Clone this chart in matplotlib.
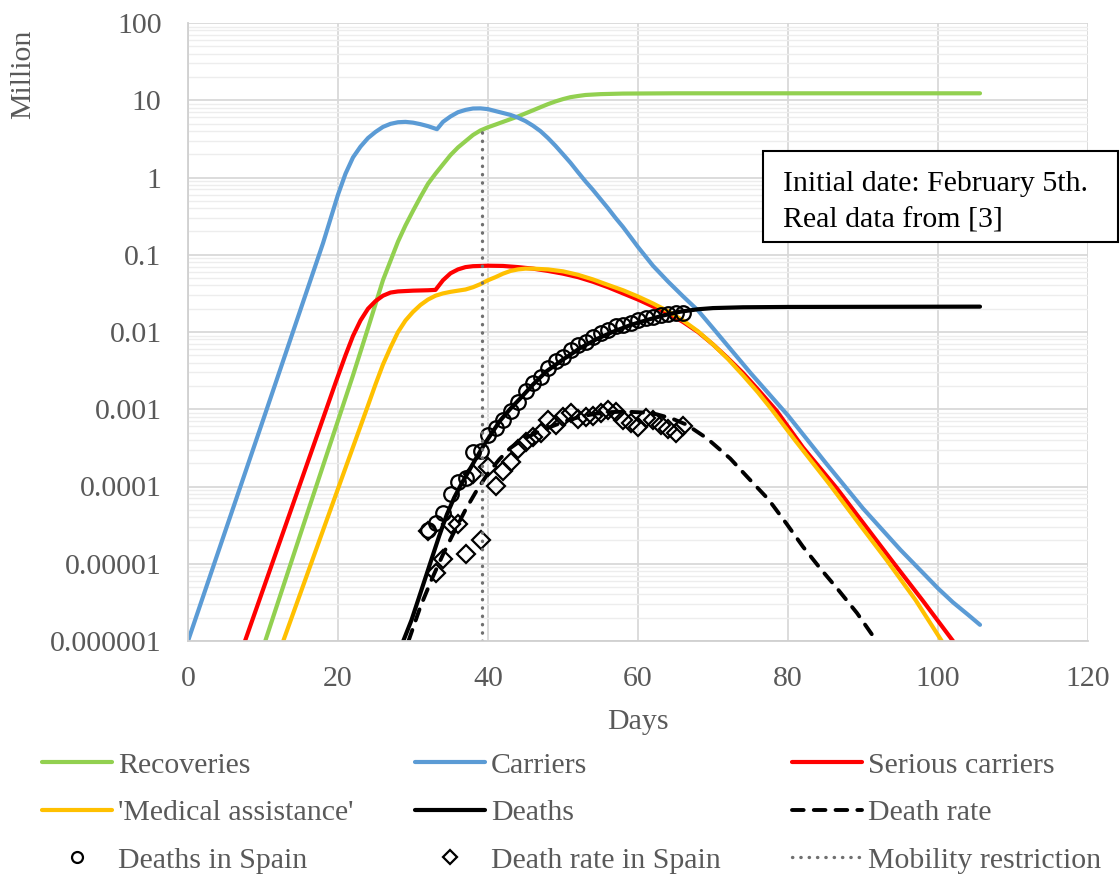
import numpy as np
import matplotlib.pyplot as plt
from matplotlib.patches import Rectangle
from matplotlib.ticker import LogLocator, NullFormatter, FixedLocator, FixedFormatter

plt.rcParams['font.family'] = ['Liberation Serif', 'DejaVu Serif']

# model curves (days, million people)
rec_days = [10.3, 16, 22, 24, 26, 28, 29, 30, 31, 32, 33, 34, 35, 36, 37, 38, 39, 40, 41, 42, 43, 44, 45, 46, 47, 48,
            49, 50, 51, 52, 53, 55, 58, 65, 105.6]
rec_vals = [1e-6, 4.8e-5, 2.75e-3, 0.0112, 0.047, 0.148, 0.24, 0.37, 0.56, 0.83, 1.12, 1.48, 1.95, 2.45, 2.95, 3.55,
            4.07, 4.47, 4.84, 5.25, 5.69, 6.17, 6.76, 7.41, 8.13, 8.91, 9.66, 10.35, 10.96, 11.35, 11.7, 12.0, 12.2,
            12.3, 12.3]

car_days = [0, 5, 10, 15, 18, 20, 21, 22, 23, 24, 25, 26, 27, 28, 29, 30, 31, 32, 33.2, 34, 35, 36, 37, 38, 39, 40,
            41, 42, 43, 44, 45, 46, 47, 48, 49, 50, 51, 52, 53, 54, 55, 56, 57, 58, 59, 60, 62, 64, 66, 68, 70, 75,
            80, 85, 90, 95, 98, 100, 102, 104, 105.6]
car_vals = [1e-6, 2.7e-5, 7.2e-4, 0.0195, 0.141, 0.60, 1.12, 1.82, 2.51, 3.24, 3.89, 4.52, 4.95, 5.19, 5.25, 5.13,
            4.90, 4.62, 4.22, 5.25, 6.17, 7.0, 7.5, 7.82, 7.85, 7.67, 7.24, 6.84, 6.46, 5.96, 5.37, 4.68, 3.98, 3.24,
            2.57, 2.0, 1.55, 1.17, 0.89, 0.69, 0.525, 0.40, 0.30, 0.229, 0.17, 0.126, 0.072, 0.045, 0.029, 0.019,
            0.0112, 0.00295, 8.3e-4, 2.04e-4, 5.2e-5, 1.51e-5, 7.6e-6, 4.8e-6, 3.16e-6, 2.19e-6, 1.62e-6]

ser_days = [7.6, 14, 19.7, 21, 22, 23, 24, 25, 26, 27, 28, 30, 32, 33, 34, 35, 36, 37, 38, 40, 42, 44, 46, 48, 50,
            52, 54, 56, 58, 60, 62, 64, 66, 68, 70, 72, 74, 76, 78.5, 82, 86.5, 90, 94, 98, 102]
ser_vals = [1e-6, 5.9e-5, 2.24e-3, 5.0e-3, 8.9e-3, 0.0141, 0.020, 0.0251, 0.0295, 0.0324, 0.0335, 0.0343, 0.0347,
            0.0351, 0.0468, 0.0575, 0.0646, 0.0692, 0.0711, 0.0721, 0.0716, 0.0692, 0.0661, 0.0617, 0.0569, 0.0513,
            0.0447, 0.038, 0.0316, 0.0263, 0.0214, 0.0174, 0.0135, 0.01, 0.0069, 0.00457, 0.00295, 0.00180, 9.5e-4,
            3.2e-4, 9.5e-5, 3.4e-5, 1.05e-5, 3.3e-6, 1e-6]

med_days = [12.7, 18, 24, 25, 26, 27, 28, 29, 30, 31, 32, 33, 34, 35, 36, 37, 38, 39, 40, 41, 42, 43, 44, 45, 46,
            48, 50, 52, 54, 56, 58, 60, 62, 64, 66, 68, 70, 72, 74, 76, 77.8, 81, 85.6, 89, 93.2, 97, 100.5]
med_vals = [1e-6, 2.7e-5, 1.12e-3, 2.1e-3, 3.8e-3, 6.3e-3, 0.01, 0.0141, 0.0182, 0.0224, 0.0263, 0.0295, 0.0316,
            0.0331, 0.0343, 0.0355, 0.038, 0.0417, 0.0468, 0.0513, 0.0569, 0.0617, 0.0646, 0.0661, 0.0661, 0.0646,
            0.061, 0.055, 0.0479, 0.0407, 0.0347, 0.0288, 0.0234, 0.0186, 0.0141, 0.0102, 0.0069, 0.00447, 0.00275,
            0.00165, 1.0e-3, 3.9e-4, 1.05e-4, 3.8e-5, 1.1e-5, 3.4e-6, 1e-6]

dth_days = [28.7, 29.8, 31, 32.3, 33.5, 34.5, 35.5, 36.5, 37.5, 38.5, 39.5, 40.5, 41.6, 43, 44.3, 46, 47.8, 50, 52.3,
            54.5, 56.7, 59, 61.2, 63.4, 65.6, 68, 70, 74, 80, 105.6]
dth_vals = [1e-6, 1.86e-6, 4.2e-6, 1.02e-5, 2.3e-5, 4.3e-5, 7.2e-5, 1.1e-4, 1.62e-4, 2.4e-4, 3.5e-4, 4.9e-4, 7.1e-4,
            1.02e-3, 1.38e-3, 2.09e-3, 3.1e-3, 4.4e-3, 6.2e-3, 8.1e-3, 0.0101, 0.0123, 0.0143, 0.0164, 0.0183,
            0.0197, 0.0204, 0.0209, 0.0211, 0.0213]

rate_days = [29.4, 31, 32.5, 34, 35.5, 37, 38.5, 40, 41.5, 43, 44.5, 46.5, 48.5, 50.5, 52.5, 54.5, 56.5, 58.5, 60.5,
             62.5, 64.5, 66.5, 69.2, 72.3, 74.7, 77.4, 79.8, 82, 84.3, 86.7, 89.2, 91.8]
rate_vals = [1e-6, 2.8e-6, 6.3e-6, 1.32e-5, 2.6e-5, 5e-5, 8.9e-5, 1.48e-4, 2.24e-4, 3.16e-4, 4e-4, 5e-4, 6.0e-4,
             7.1e-4, 8.1e-4, 8.8e-4, 9.2e-4, 9.3e-4, 9.1e-4, 8.6e-4, 7.6e-4, 6.3e-4, 4.2e-4, 2.3e-4, 1.29e-4, 6.8e-5,
             3.3e-5, 1.66e-5, 8.7e-6, 4.6e-6, 2.3e-6, 1e-6]

# real data for Spain, days 32..66
spain_days = list(range(32, 67))
spain_deaths = [2.7e-5, 3.4e-5, 4.5e-5, 8.1e-5, 1.15e-4, 1.3e-4, 2.8e-4, 2.9e-4, 4.7e-4, 5.8e-4, 7.3e-4, 9.5e-4, 1.25e-3,
                1.7e-3, 2.2e-3, 2.65e-3, 3.4e-3, 4.2e-3, 4.8e-3, 5.9e-3, 6.8e-3, 7.5e-3, 8.7e-3, 9.6e-3, 0.0106, 0.0118,
                0.0123, 0.0132, 0.0143, 0.0150, 0.0158, 0.0166, 0.0171, 0.0175, 0.0178]
spain_rate = [2.65e-5, 7.5e-6, 1.14e-5, 3.3e-5, 3.3e-5, 1.34e-5, 1.45e-4, 2.0e-5, 1.8e-4, 1.02e-4, 1.6e-4, 2.05e-4, 3.1e-4,
              3.8e-4, 4.4e-4, 4.9e-4, 7.2e-4, 6.2e-4, 8.0e-4, 9.0e-4, 7.4e-4, 8.0e-4, 8.2e-4, 8.9e-4, 9.8e-4, 9.1e-4,
              7.2e-4, 6.6e-4, 5.9e-4, 7.6e-4, 7.2e-4, 6.2e-4, 5.6e-4, 4.9e-4, 6.0e-4]

mob_days = [39.2, 39.2]
mob_vals = [1e-6, 4.3]

yticks = [1e-6, 1e-5, 1e-4, 1e-3, 1e-2, 1e-1, 1, 10, 100]
ylabels = ['0.000001', '0.00001', '0.0001', '0.001', '0.01', '0.1', '1', '10', '100']
xticks = [0, 20, 40, 60, 80, 100, 120]

W, H = 1120, 877
fig = plt.figure(figsize=(W / 100, H / 100), dpi=100)
ax = fig.add_axes([188 / W, 1 - 641 / H, 900 / W, 618 / H])

fs = 21.5
tc = '#595959'
lk = dict(lw=3, solid_joinstyle='round', solid_capstyle='round')

l_rec, = ax.plot(rec_days, rec_vals, color='#92d050', label='Recoveries', **lk)
l_car, = ax.plot(car_days, car_vals, color='#5b9bd5', label='Carriers', **lk)
l_ser, = ax.plot(ser_days, ser_vals, color='#ff0000', label='Serious carriers', **lk)
l_med, = ax.plot(med_days, med_vals, color='#ffc000', label="'Medical assistance'", **lk)
l_dth, = ax.plot(dth_days, dth_vals, color='black', label='Deaths', **lk)
l_rate, = ax.plot(rate_days, rate_vals, color='black', lw=2.8, dashes=(3, 2.6), dash_capstyle='round',
                  label='Death rate')
l_sd, = ax.plot(spain_days, spain_deaths, ls='none', marker='o', ms=10.5, mfc='none', mec='black', mew=1.6,
                label='Deaths in Spain')
l_sr, = ax.plot(spain_days, spain_rate, ls='none', marker='D', ms=9, mfc='none', mec='black', mew=1.6,
                label='Death rate in Spain')
l_mob, = ax.plot(mob_days, mob_vals, color='#707070', lw=2.4, ls=(0, (0.1, 2.4)), dash_capstyle='round',
                 label='Mobility restriction')

ax.set_yscale('log')
ax.set_xlim(0, 120)
ax.set_ylim(1e-6, 100)
ax.yaxis.set_major_locator(FixedLocator(yticks))
ax.yaxis.set_major_formatter(FixedFormatter(ylabels))
ax.yaxis.set_minor_locator(LogLocator(base=10, subs=np.arange(2, 10), numticks=20))
ax.yaxis.set_minor_formatter(NullFormatter())
ax.set_xticks(xticks)
ax.tick_params(which='both', length=0)
ax.tick_params(axis='y', pad=19, labelsize=fs, labelcolor=tc)
ax.tick_params(axis='x', pad=18, labelsize=fs, labelcolor=tc)
ax.grid(which='major', color='#d9d9d9', lw=1.3)
ax.grid(which='minor', axis='y', color='#ededed', lw=1.0)
ax.set_axisbelow(True)
for s in ['top', 'right']:
    ax.spines[s].set_visible(False)
for s in ['left', 'bottom']:
    ax.spines[s].set_color('#d0d0d0')
    ax.spines[s].set_linewidth(1.3)

fig.text(638 / W, 1 - 722 / H, 'Days', ha='center', va='center', fontsize=fs, color=tc)
fig.text(23 / W, 1 - 74 / H, 'Million', ha='center', va='center', rotation=90, fontsize=fs, color=tc)

# note box
fig.add_artist(Rectangle((763 / W, 1 - 242 / H), 355 / W, 91 / H, transform=fig.transFigure,
                         facecolor='white', edgecolor='black', lw=1.5, zorder=5))
fig.text(783 / W, 1 - 202 / H, 'Initial date: February 5th.\nReal data from [3]', ha='left', va='center',
         fontsize=fs, color='black', linespacing=1.5, zorder=6)

# legend: one column at a time so the columns sit where Excel put them
columns = [([l_rec, l_med, l_sd], 42), ([l_car, l_dth, l_sr], 415), ([l_ser, l_rate, l_mob], 792)]
for hs, xpx in columns:
    fig.legend(handles=hs, labels=[h.get_label() for h in hs], loc='upper left',
               bbox_to_anchor=(xpx / W, 1 - 752 / H), frameon=False, fontsize=fs, labelcolor=tc,
               handlelength=2.35, handletextpad=0.2, labelspacing=0.69, borderpad=0, borderaxespad=0,
               markerscale=0.75)

fig.savefig('out.png', dpi=100)
